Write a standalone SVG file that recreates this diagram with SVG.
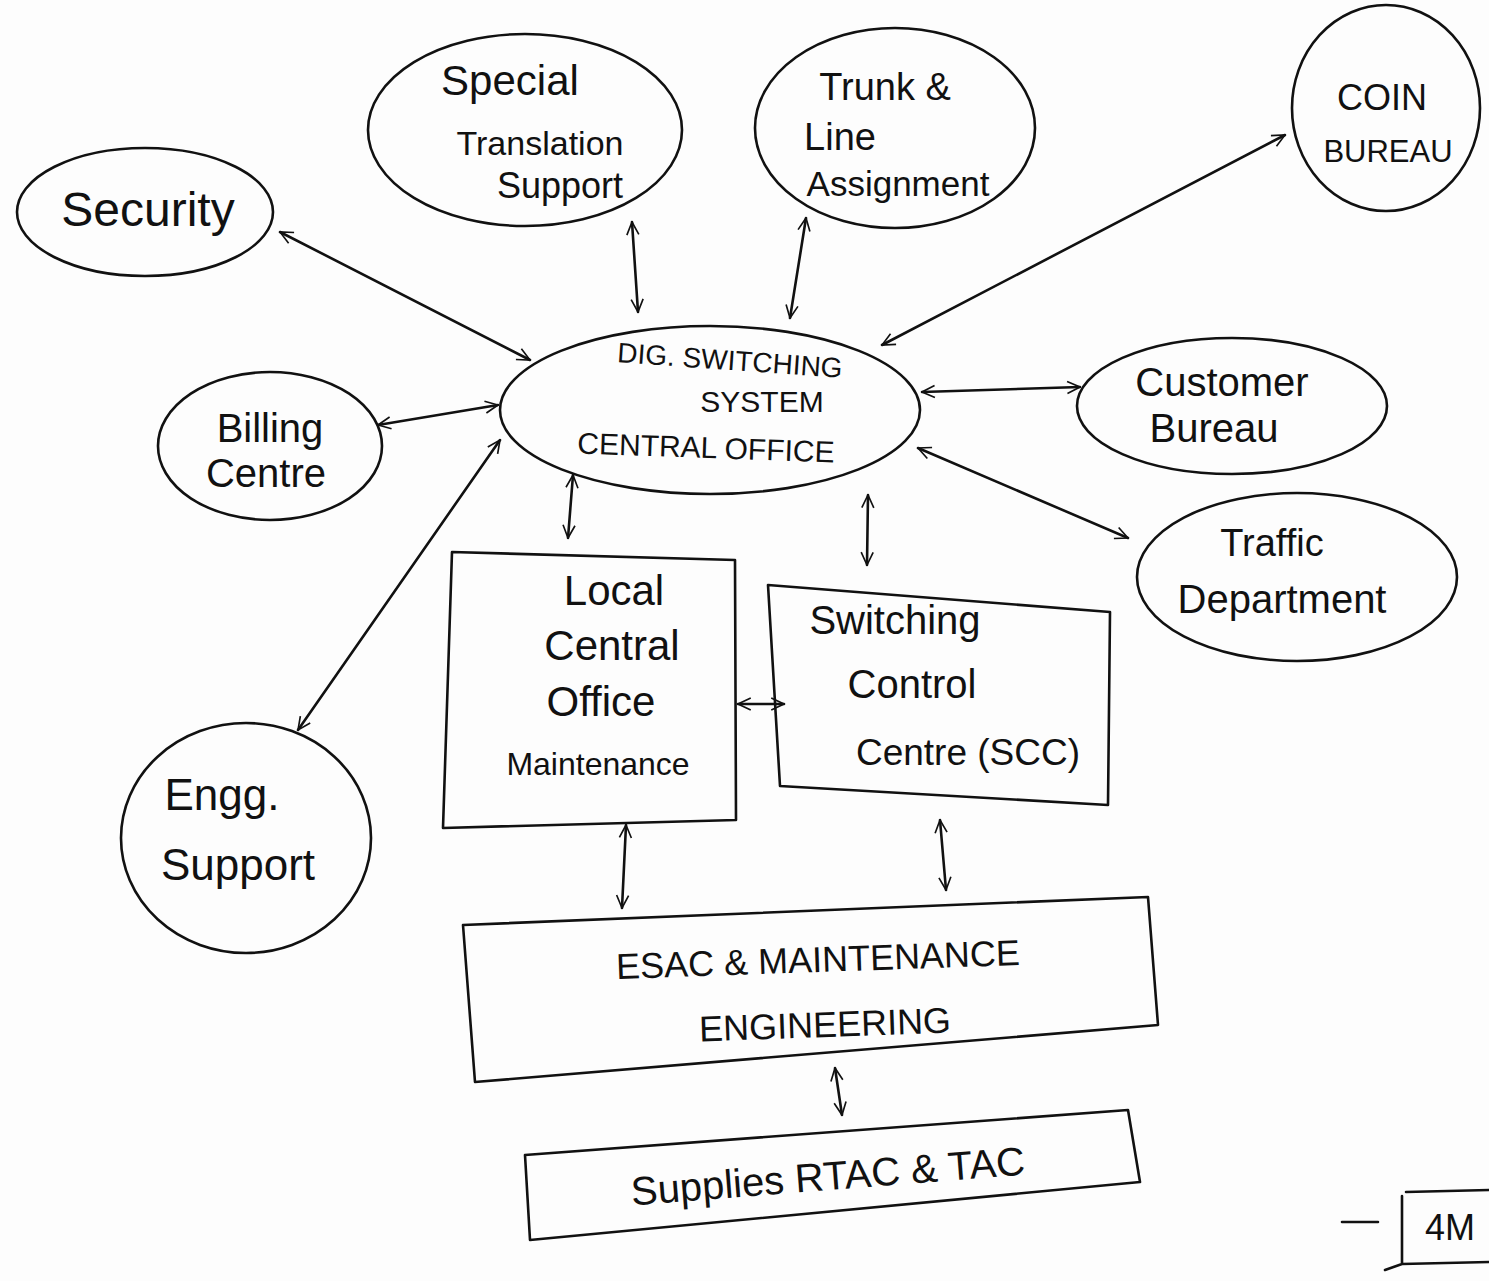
<svg xmlns="http://www.w3.org/2000/svg" width="1489" height="1281" viewBox="0 0 1489 1281">
<style>
.s{fill:none;stroke:#111;stroke-width:2.6;stroke-linecap:round;stroke-linejoin:round}
.t{font-family:"Liberation Sans","DejaVu Sans",sans-serif;fill:#111;text-anchor:middle}
</style>
<defs>
<marker id="a" viewBox="0 0 20 20" refX="19" refY="10" markerWidth="15" markerHeight="15" markerUnits="userSpaceOnUse" orient="auto-start-reverse">
<path d="M2,2 L19,10 L2,18" fill="none" stroke="#111" stroke-width="2.2"/>
</marker>
</defs>
<rect width="1489" height="1281" fill="#fdfdfd"/>
<g id="security"><ellipse class="s" cx="145" cy="212" rx="128" ry="64"/><text class="t" x="148" y="226" font-size="48">Security</text></g>
<g id="special-translation"><ellipse class="s" cx="525" cy="130" rx="157" ry="96"/>
<text class="t" x="510" y="95" font-size="42">Special</text><text class="t" x="540" y="155" font-size="34">Translation</text><text class="t" x="560" y="198" font-size="36">Support</text></g>
<g id="trunk-line"><ellipse class="s" cx="895" cy="128" rx="140" ry="100"/>
<text class="t" x="885" y="100" font-size="38">Trunk &amp;</text><text class="t" x="840" y="150" font-size="38">Line</text><text class="t" x="898" y="196" font-size="35">Assignment</text></g>
<g id="coin-bureau"><ellipse class="s" cx="1386" cy="108" rx="94" ry="103"/>
<text class="t" x="1382" y="110" font-size="36">COIN</text><text class="t" x="1388" y="162" font-size="31">BUREAU</text></g>
<g id="dig-switching"><ellipse class="s" cx="710" cy="410" rx="210" ry="84"/>
<text class="t" x="730" y="370" font-size="28" transform="rotate(4 730 360)">DIG. SWITCHING</text><text class="t" x="762" y="412" font-size="30">SYSTEM</text><text class="t" x="706" y="458" font-size="30" transform="rotate(2 706 448)">CENTRAL OFFICE</text></g>
<g id="billing"><ellipse class="s" cx="270" cy="446" rx="112" ry="74"/>
<text class="t" x="270" y="442" font-size="40">Billing</text><text class="t" x="266" y="487" font-size="40">Centre</text></g>
<g id="customer"><ellipse class="s" cx="1232" cy="406" rx="155" ry="68"/>
<text class="t" x="1222" y="396" font-size="40">Customer</text><text class="t" x="1214" y="442" font-size="40">Bureau</text></g>
<g id="traffic"><ellipse class="s" cx="1297" cy="577" rx="160" ry="84"/>
<text class="t" x="1272" y="556" font-size="38">Traffic</text><text class="t" x="1282" y="613" font-size="40">Department</text></g>
<g id="engg"><ellipse class="s" cx="246" cy="838" rx="125" ry="115"/>
<text class="t" x="222" y="810" font-size="44">Engg.</text><text class="t" x="238" y="880" font-size="44">Support</text></g>
<g id="local-maint"><path class="s" d="M452,552 L735,560 L736,820 L443,828 Z"/>
<text class="t" x="614" y="605" font-size="42">Local</text><text class="t" x="612" y="660" font-size="42">Central</text><text class="t" x="601" y="716" font-size="42">Office</text><text class="t" x="598" y="775" font-size="32">Maintenance</text></g>
<g id="scc"><path class="s" d="M768,585 L1110,612 L1108,805 L780,786 Z"/>
<text class="t" x="895" y="634" font-size="40">Switching</text><text class="t" x="912" y="698" font-size="40">Control</text><text class="t" x="968" y="765" font-size="37">Centre (SCC)</text></g>
<g id="esac"><path class="s" d="M463,925 L1148,897 L1158,1025 L475,1082 Z"/>
<text class="t" x="818" y="972" font-size="36" transform="rotate(-2 818 960)">ESAC &amp;  MAINTENANCE</text><text class="t" x="825" y="1037" font-size="36" transform="rotate(-2 825 1025)">ENGINEERING</text></g>
<g id="supplies"><path class="s" d="M525,1155 L1128,1110 L1140,1182 L530,1240 Z"/>
<text class="t" x="828" y="1190" font-size="40" transform="rotate(-4.5 828 1178)">Supplies RTAC &amp; TAC</text></g>
<g id="marks-4m"><path class="s" d="M1342,1222 L1378,1222 M1402,1196 L1402,1264 M1406,1192 L1489,1190 M1385,1270 L1402,1264 L1489,1262"/>
<text class="t" x="1450" y="1240" font-size="36">4M</text></g>
<g id="connectors">
<line class="s" x1="280" y1="232" x2="530" y2="360" marker-start="url(#a)" marker-end="url(#a)"/>
<line class="s" x1="632" y1="222" x2="638" y2="312" marker-start="url(#a)" marker-end="url(#a)"/>
<line class="s" x1="806" y1="218" x2="790" y2="318" marker-start="url(#a)" marker-end="url(#a)"/>
<line class="s" x1="1285" y1="135" x2="882" y2="345" marker-start="url(#a)" marker-end="url(#a)"/>
<line class="s" x1="378" y1="425" x2="498" y2="405" marker-start="url(#a)" marker-end="url(#a)"/>
<line class="s" x1="922" y1="392" x2="1080" y2="387" marker-start="url(#a)" marker-end="url(#a)"/>
<line class="s" x1="918" y1="448" x2="1128" y2="538" marker-start="url(#a)" marker-end="url(#a)"/>
<line class="s" x1="298" y1="730" x2="500" y2="440" marker-start="url(#a)" marker-end="url(#a)"/>
<line class="s" x1="573" y1="475" x2="568" y2="538" marker-start="url(#a)" marker-end="url(#a)"/>
<line class="s" x1="868" y1="495" x2="867" y2="565" marker-start="url(#a)" marker-end="url(#a)"/>
<line class="s" x1="738" y1="704" x2="784" y2="704" marker-start="url(#a)" marker-end="url(#a)"/>
<line class="s" x1="626" y1="825" x2="622" y2="908" marker-start="url(#a)" marker-end="url(#a)"/>
<line class="s" x1="940" y1="820" x2="946" y2="890" marker-start="url(#a)" marker-end="url(#a)"/>
<line class="s" x1="835" y1="1068" x2="842" y2="1115" marker-start="url(#a)" marker-end="url(#a)"/>
</g>
</svg>
